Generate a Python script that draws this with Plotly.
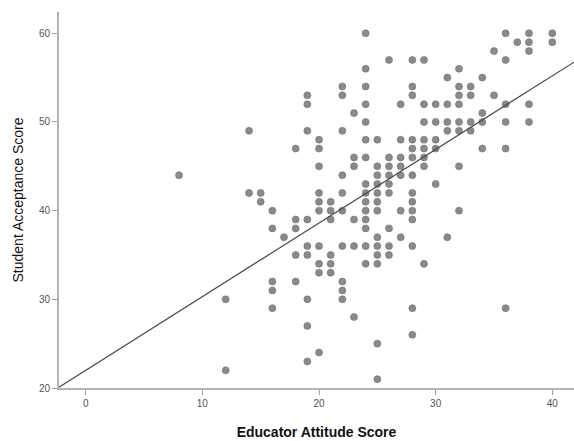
import plotly.graph_objects as go

# Educator attitude score (x) -> list of student acceptance scores (y)
educator_x = [8, 12, 12, 14, 14, 15, 15,
              16, 16, 16, 16, 16, 17,
              18, 18, 18, 18, 18,
              19, 19, 19, 19, 19, 19, 19, 19, 19,
              20, 20, 20, 20, 20, 20, 20, 20, 20, 20,
              21, 21, 21, 21, 21, 21,
              22, 22, 22, 22, 22, 22, 22, 22, 22, 22,
              23, 23, 23, 23, 23, 23,
              24, 24, 24, 24, 24, 24, 24, 24, 24, 24, 24, 24, 24, 24, 24,
              25, 25, 25, 25, 25, 25, 25, 25, 25, 25, 25, 25, 25,
              26, 26, 26, 26, 26, 26, 26, 26, 26,
              27, 27, 27, 27, 27, 27, 27,
              28, 28, 28, 28, 28, 28, 28, 28, 28, 28, 28, 28, 28, 28,
              29, 29, 29, 29, 29, 29, 29, 29,
              30, 30, 30, 30, 30,
              31, 31, 31, 31, 31,
              32, 32, 32, 32, 32, 32, 32, 32,
              33, 33, 33, 33,
              34, 34, 34, 34,
              35, 35,
              36, 36, 36, 36, 36, 36,
              37,
              38, 38, 38, 38, 38,
              40, 40]
student_y = [44, 30, 22, 49, 42, 42, 41,
             40, 38, 32, 31, 29, 37,
             47, 39, 38, 35, 32,
             53, 52, 49, 39, 36, 35, 30, 27, 23,
             48, 47, 45, 42, 41, 40, 36, 34, 33, 24,
             41, 40, 39, 35, 34, 33,
             54, 53, 49, 44, 42, 40, 36, 32, 31, 30,
             51, 46, 45, 39, 36, 28,
             60, 56, 54, 52, 50, 48, 46, 43, 42, 41, 40, 39, 38, 36, 34,
             48, 45, 44, 43, 42, 41, 40, 37, 36, 35, 34, 25, 21,
             57, 46, 45, 44, 43, 42, 38, 36, 35,
             52, 48, 46, 45, 44, 40, 37,
             57, 54, 53, 48, 47, 46, 44, 42, 41, 40, 39, 36, 29, 26,
             57, 52, 50, 48, 47, 46, 45, 34,
             52, 50, 48, 47, 43,
             55, 52, 50, 49, 37,
             56, 54, 53, 52, 50, 49, 45, 40,
             54, 53, 50, 49,
             55, 51, 50, 47,
             58, 53,
             60, 57, 52, 50, 47, 29,
             59,
             60, 59, 58, 52, 50,
             60, 59]

# Fit line
fit_intercept = 22.0
fit_slope = 0.83

x_ticks = [0, 10, 20, 30, 40]
y_ticks = [20, 30, 40, 50, 60]
x_range = [-2.29, 41.86]
y_range = [20, 62.4]

fit_x = x_range
fit_y = [fit_intercept + fit_slope * v for v in fit_x]

fig = go.Figure()
fig.add_trace(go.Scatter(
    x=educator_x, y=student_y, mode="markers",
    marker=dict(size=7, color="#8a8a8a", line=dict(width=0.6, color="#707070")),
    showlegend=False, hoverinfo="x+y", cliponaxis=False))
fig.add_trace(go.Scatter(
    x=fit_x, y=fit_y, mode="lines",
    line=dict(color="#4a4a4a", width=1.2),
    showlegend=False, hoverinfo="skip"))

fig.update_layout(
    width=574, height=441,
    margin=dict(l=59, r=0, t=12, b=53),
    paper_bgcolor="white", plot_bgcolor="white",
    font=dict(family="Liberation Sans, Arial, sans-serif", color="#444444", size=10),
    xaxis=dict(
        range=x_range, tickvals=x_ticks, ticks="outside", ticklen=5,
        tickcolor="#a0a0a0", showgrid=False, zeroline=False, automargin=False,
        showline=True, linecolor="#b4b4b4", linewidth=2,
        tickfont=dict(size=10, color="#555555"),
        title=dict(text="<b>Educator Attitude Score</b>",
                   font=dict(size=14, color="#111111"), standoff=19)),
    yaxis=dict(
        range=y_range, tickvals=y_ticks, ticks="outside", ticklen=5,
        tickcolor="#a0a0a0", showgrid=False, zeroline=False, automargin=False,
        showline=True, linecolor="#b4b4b4", linewidth=2,
        tickfont=dict(size=10, color="#555555"),
        title=dict(text="Student Acceptance Score",
                   font=dict(size=14, color="#111111"), standoff=12)),
)

fig.write_html("out.html", config={"displayModeBar": False},
               post_script="document.body.style.margin='0';document.body.style.overflow='hidden';")
